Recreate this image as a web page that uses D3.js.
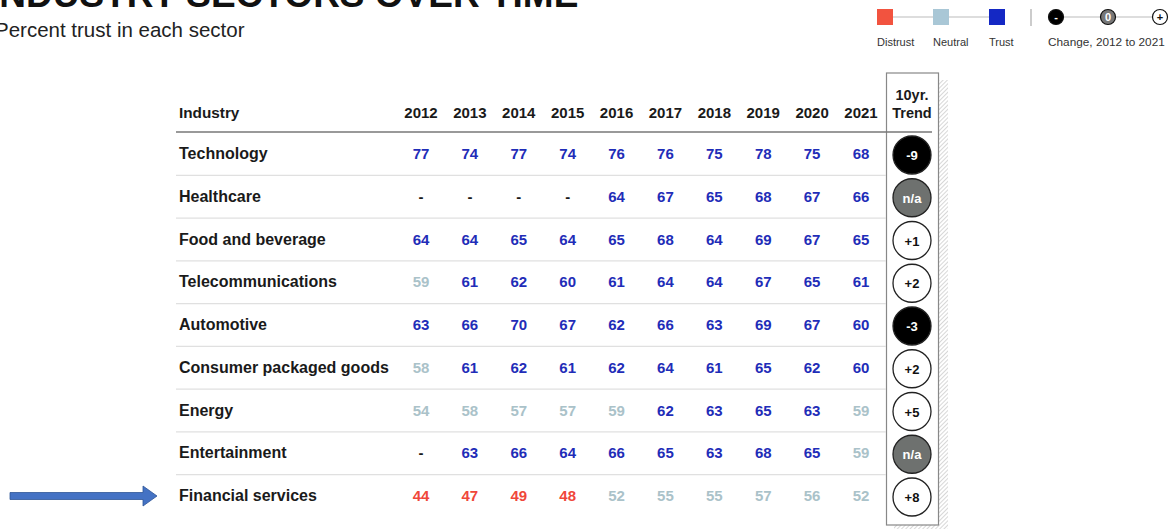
<!DOCTYPE html>
<html>
<head>
<meta charset="utf-8">
<script src="https://cdn.jsdelivr.net/npm/d3@7"></script>
<style>
  html, body { margin: 0; padding: 0; background: #fff; }
  svg { display: block; font-family: "Liberation Sans", Arial, Helvetica, sans-serif; }
</style>
</head>
<body>
<svg id="chart" width="1172" height="529"></svg>
<script>
// Trust in industry sectors, 2012-2021 (percent trust)
const years = ["2012","2013","2014","2015","2016","2017","2018","2019","2020","2021"];
const industries = [
  "Technology", "Healthcare", "Food and beverage", "Telecommunications",
  "Automotive", "Consumer packaged goods", "Energy", "Entertainment", "Financial services"
];
const technology     = [77, 74, 77, 74, 76, 76, 75, 78, 75, 68];
const healthcare     = [null, null, null, null, 64, 67, 65, 68, 67, 66];
const foodBeverage   = [64, 64, 65, 64, 65, 68, 64, 69, 67, 65];
const telecom        = [59, 61, 62, 60, 61, 64, 64, 67, 65, 61];
const automotive     = [63, 66, 70, 67, 62, 66, 63, 69, 67, 60];
const consumerGoods  = [58, 61, 62, 61, 62, 64, 61, 65, 62, 60];
const energy         = [54, 58, 57, 57, 59, 62, 63, 65, 63, 59];
const entertainment  = [null, 63, 66, 64, 66, 65, 63, 68, 65, 59];
const financial      = [44, 47, 49, 48, 52, 55, 55, 57, 56, 52];
const trendLabels    = ["-9", "n/a", "+1", "+2", "-3", "+2", "+5", "n/a", "+8"];
const legendLevels   = ["Distrust", "Neutral", "Trust"];
const changeMarks    = ["-", "0", "+"];

const series = [technology, healthcare, foodBeverage, telecom, automotive,
                consumerGoods, energy, entertainment, financial];

const svg = d3.select("#chart");

const TRUST = "#1f2db8", NEUTRAL = "#aac2c9", DISTRUST = "#f0473a";
const levelColor = d3.scaleThreshold().domain([50, 60]).range([DISTRUST, NEUTRAL, TRUST]);
const legendColor = d3.scaleOrdinal().domain(legendLevels).range(["#f2533f", "#a9c7d6", "#1428c4"]);

const x = d3.scalePoint().domain(years).range([421, 861]);
const y = d3.scalePoint().domain(industries).range([154, 496]);
const rowStep = y.step();
const trendX = 912;
const tableLeft = 176, tableRight = 886;

// Title block (runs off the top-left edge)
svg.append("text").attr("x", -11).attr("y", 7)
  .attr("font-size", 37).attr("font-weight", "bold").attr("fill", "#111")
  .text("INDUSTRY SECTORS OVER TIME");
svg.append("text").attr("x", -5).attr("y", 37)
  .attr("font-size", 20.5).attr("fill", "#222")
  .text("Percent trust in each sector");

// Legend: trust levels
const lx = d3.scalePoint().domain(legendLevels).range([885, 997]);
const lg = svg.append("g");
lg.append("line").attr("x1", lx("Distrust")).attr("x2", lx("Trust"))
  .attr("y1", 17).attr("y2", 17).attr("stroke", "#bbb").attr("stroke-width", 1);
lg.selectAll("rect").data(legendLevels).join("rect")
  .attr("x", d => lx(d) - 8).attr("y", 9).attr("width", 16).attr("height", 16)
  .attr("fill", d => legendColor(d));
lg.selectAll("text").data(legendLevels).join("text")
  .attr("x", d => lx(d) - 8).attr("y", 46)
  .attr("font-size", 11).attr("fill", "#333")
  .text(d => d);
svg.append("line").attr("x1", 1031).attr("x2", 1031).attr("y1", 9).attr("y2", 26)
  .attr("stroke", "#999").attr("stroke-width", 1);

// Legend: change markers
const cx = d3.scalePoint().domain(changeMarks).range([1056, 1160]);
const cg = svg.append("g");
cg.append("line").attr("x1", cx("-")).attr("x2", cx("+"))
  .attr("y1", 17).attr("y2", 17).attr("stroke", "#bbb");
const markFill = { "-": "#000", "0": "#777", "+": "#fff" };
cg.selectAll("circle").data(changeMarks).join("circle")
  .attr("cx", d => cx(d)).attr("cy", 17).attr("r", 7.5)
  .attr("fill", d => markFill[d]).attr("stroke", "#111").attr("stroke-width", 1.2);
cg.selectAll("text.m").data(changeMarks).join("text").attr("class", "m")
  .attr("x", d => cx(d)).attr("y", 21).attr("text-anchor", "middle")
  .attr("font-size", 11).attr("font-weight", "bold")
  .attr("fill", d => d === "+" ? "#111" : "#fff").text(d => d);
cg.append("text").attr("x", 1048).attr("y", 46)
  .attr("font-size", 11.8).attr("fill", "#333").text("Change, 2012 to 2021");

// Trend column frame with hatched shadow
const defs = svg.append("defs");
const pat = defs.append("pattern").attr("id", "hatch").attr("patternUnits", "userSpaceOnUse")
  .attr("width", 3).attr("height", 3).attr("patternTransform", "rotate(45)");
pat.append("line").attr("x1", 0).attr("y1", 0).attr("x2", 0).attr("y2", 3)
  .attr("stroke", "#bbb").attr("stroke-width", 1.2);
svg.append("rect").attr("x", 894).attr("y", 80).attr("width", 54).attr("height", 452)
  .attr("fill", "url(#hatch)");
svg.append("rect").attr("x", 886.5).attr("y", 73).attr("width", 52).attr("height", 452)
  .attr("fill", "#fff").attr("stroke", "#888").attr("stroke-width", 1.2);

// Header row
const headerY = 118;
svg.append("text").attr("x", 179).attr("y", headerY)
  .attr("font-size", 15.3).attr("font-weight", "bold").attr("fill", "#1a1a1a").text("Industry");
svg.append("g").selectAll("text").data(years).join("text")
  .attr("x", d => x(d)).attr("y", headerY).attr("text-anchor", "middle")
  .attr("font-size", 15).attr("font-weight", "bold").attr("fill", "#1a1a1a").text(d => d);
svg.append("text").attr("x", trendX).attr("y", 100).attr("text-anchor", "middle")
  .attr("font-size", 14.5).attr("font-weight", "bold").attr("fill", "#1a1a1a").text("10yr.");
svg.append("text").attr("x", trendX).attr("y", headerY).attr("text-anchor", "middle")
  .attr("font-size", 14.5).attr("font-weight", "bold").attr("fill", "#1a1a1a").text("Trend");

svg.append("line").attr("x1", tableLeft).attr("x2", 932)
  .attr("y1", 132).attr("y2", 132).attr("stroke", "#777").attr("stroke-width", 1.5);

// Row separators
svg.append("g").selectAll("line").data(industries.slice(1)).join("line")
  .attr("x1", tableLeft).attr("x2", tableRight)
  .attr("y1", d => y(d) - rowStep / 2).attr("y2", d => y(d) - rowStep / 2)
  .attr("stroke", "#e0e0e0").attr("stroke-width", 1.2);

// Rows
const rows = svg.append("g").selectAll("g").data(industries).join("g")
  .attr("transform", d => `translate(0,${y(d)})`);
rows.append("text").attr("x", 179).attr("y", 5)
  .attr("font-size", 16).attr("font-weight", "bold").attr("fill", "#1a1a1a").text(d => d);
rows.selectAll("text.v")
  .data((d, i) => series[i].map((v, j) => ({ v, year: years[j] })))
  .join("text").attr("class", "v")
  .attr("x", d => x(d.year)).attr("y", 5).attr("text-anchor", "middle")
  .attr("font-size", 15).attr("font-weight", "bold")
  .attr("fill", d => d.v == null ? "#1a1a1a" : levelColor(d.v))
  .text(d => d.v == null ? "-" : d.v);

// Trend markers
const trendFill = t => t === "n/a" ? "#6e716f" : t.startsWith("-") ? "#000" : "#fff";
rows.append("circle").attr("cx", trendX).attr("cy", 1).attr("r", 19)
  .attr("fill", (d, i) => trendFill(trendLabels[i]))
  .attr("stroke", "#222").attr("stroke-width", 1.3);
rows.append("text").attr("x", trendX).attr("y", 6).attr("text-anchor", "middle")
  .attr("font-size", 13).attr("font-weight", "bold")
  .attr("fill", (d, i) => trendLabels[i].startsWith("+") ? "#111" : "#fff")
  .text((d, i) => trendLabels[i]);

// Pointer arrow on Financial services
const ay = y("Financial services");
svg.append("path")
  .attr("d", `M10,${ay - 3.5} L143,${ay - 3.5} L143,${ay - 10} L157,${ay} L143,${ay + 10} L143,${ay + 3.5} L10,${ay + 3.5} Z`)
  .attr("fill", "#4472c4").attr("stroke", "#2f5597").attr("stroke-width", 0.8);
</script>
</body>
</html>
